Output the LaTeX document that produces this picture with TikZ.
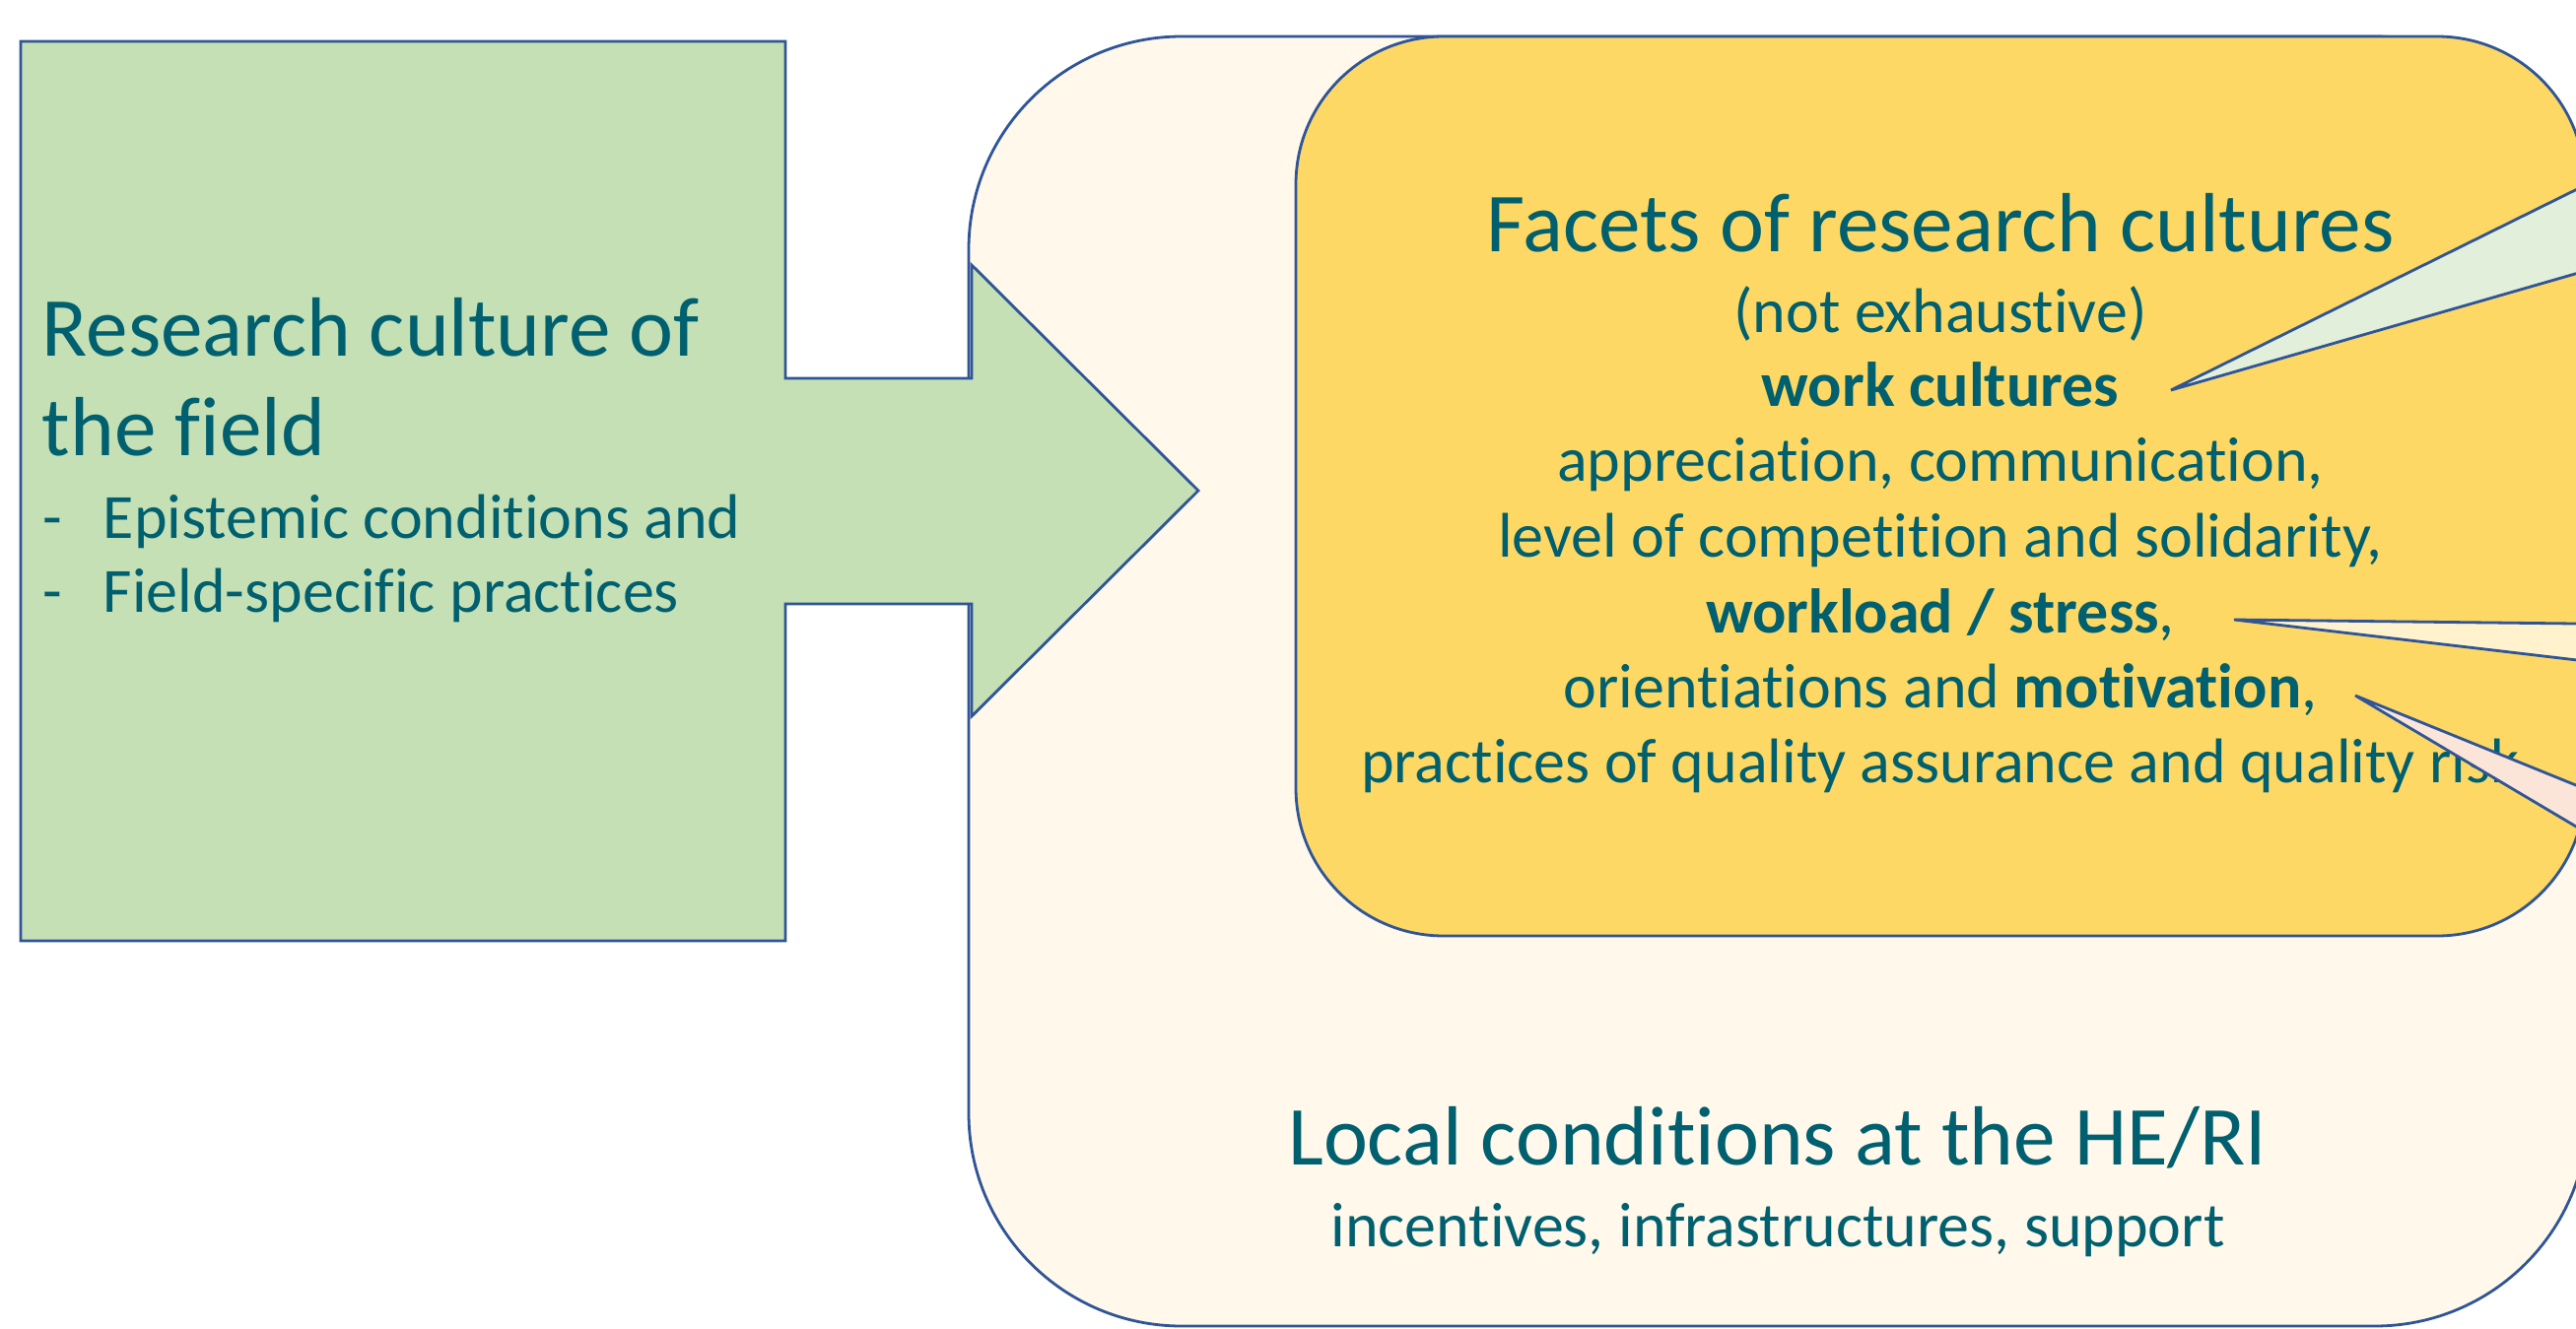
\documentclass[tikz,border=0pt]{standalone}
\usepackage{fontspec}
\setmainfont{Carlito}[Ligatures=NoCommon]
\definecolor{tc}{HTML}{00606F}
\definecolor{bc}{HTML}{2F5597}
\definecolor{greenf}{HTML}{C5E0B4}
\definecolor{creamf}{HTML}{FFF8EB}
\definecolor{yellowf}{HTML}{FDD865}
\definecolor{wgreen}{HTML}{E2EFDA}
\definecolor{wcream}{HTML}{FFF2CC}
\definecolor{wpink}{HTML}{FAE5D8}
\tikzset{
  outl/.style={draw=bc, line width=0.7pt},
  bigtxt/.style={text=tc, inner sep=0pt, font=\fontsize{21.3pt}{25pt}\selectfont},
  smalltxt/.style={text=tc, inner sep=0pt, font=\fontsize{16pt}{19pt}\selectfont},
}
\begin{document}
\begin{tikzpicture}[x=0.25pt,y=-0.25pt]
\useasboundingbox (0,0) rectangle (2614,1349);
\clip (0,0) rectangle (2614,1349);
% outer local-conditions box
\draw[outl, fill=creamf, rounded corners=54pt] (983,37) rectangle (2626,1346);
% facets box
\draw[outl, fill=yellowf, rounded corners=37.5pt] (1315,37) rectangle (2623,950);
% green callout arrow
\draw[outl, fill=greenf] (21,42) -- (797,42) -- (797,384) -- (986,384) -- (986,269)
  -- (1216,498) -- (986,727) -- (986,613) -- (797,613) -- (797,955) -- (21,955) -- cycle;
% left texts
\node[bigtxt, anchor=base west] (l1) at (42,361) {Research culture of};
\node[bigtxt, anchor=base west] (l2) at (42,462) {the field};
\node[smalltxt, anchor=base west] (d1) at (43,546) {-};
\node[smalltxt, anchor=base west] (b1) at (104,546) {Epistemic conditions and};
\node[smalltxt, anchor=base west] (d2) at (43,621) {-};
\node[smalltxt, anchor=base west] (b2) at (104,621) {Field-specific practices};
% facets texts
\node[bigtxt, anchor=base] (f0) at (1969,255) {Facets of research cultures};
\node[smalltxt, anchor=base] (f1) at (1969,337) {(not exhaustive)};
\node[smalltxt, anchor=base] (f2) at (1969,412) {\textbf{work cultures}};
\node[smalltxt, anchor=base] (f3) at (1969,488) {appreciation, communication,};
\node[smalltxt, anchor=base] (f4) at (1969,565) {level of competition and solidarity,};
\node[smalltxt, anchor=base] (f5) at (1969,642) {\textbf{workload / stress},};
\node[smalltxt, anchor=base] (f6) at (1969,718) {orientiations and \textbf{motivation},};
\node[smalltxt, anchor=base] (f7) at (1969,794) {practices of quality assurance and quality risk};
% local conditions texts
\node[bigtxt, anchor=base] (c0) at (1804,1182) {Local conditions at the HE/RI};
\node[smalltxt, anchor=base] (c1) at (1804,1265) {incentives, infrastructures, support};
% callout wedges
\draw[outl, fill=wgreen] (2203,396) -- (2700,150) -- (2700,253) -- cycle;
\draw[outl, fill=wcream] (2267,629) -- (2700,634) -- (2700,680) -- cycle;
\draw[outl, fill=wpink] (2390,706) -- (2700,832) -- (2700,890) -- cycle;
\end{tikzpicture}
\end{document}
